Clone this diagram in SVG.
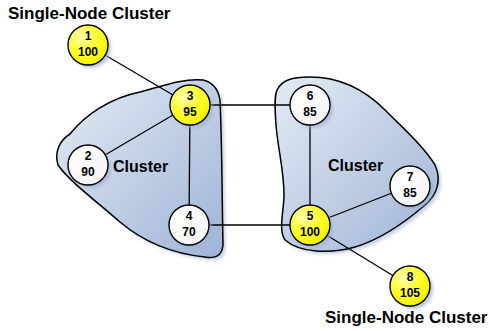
<svg xmlns="http://www.w3.org/2000/svg" width="489" height="331" viewBox="0 0 489 331">
<defs>
<linearGradient id="blob" x1="0" y1="0" x2="1" y2="1">
<stop offset="0" stop-color="#e4ebf4"/>
<stop offset="1" stop-color="#9fb4d6"/>
</linearGradient>
<radialGradient id="yel" cx="0.35" cy="0.3" r="0.75">
<stop offset="0" stop-color="#ffffb0"/>
<stop offset="0.5" stop-color="#ffff30"/>
<stop offset="1" stop-color="#f0f000"/>
</radialGradient>
<radialGradient id="wht" cx="0.35" cy="0.3" r="0.75">
<stop offset="0" stop-color="#ffffff"/>
<stop offset="1" stop-color="#f4f4f4"/>
</radialGradient>
<filter id="sh" x="-30%" y="-30%" width="160%" height="160%">
<feGaussianBlur stdDeviation="1.5"/>
</filter>
</defs>
<style>
.blob{fill:url(#blob);stroke:#000;stroke-width:1.5}
.bsh{fill:#a8b8d8;opacity:0.6;filter:url(#sh)}
.nsh{fill:#9fb0d8;opacity:0.7;filter:url(#sh)}
.y{fill:url(#yel);stroke:#000;stroke-width:1.4}
.w{fill:url(#wht);stroke:#000;stroke-width:1.4}
.t{font-family:"Liberation Sans",Arial,sans-serif;font-weight:bold;font-size:12px;text-anchor:middle;fill:#000}
.lab{font-family:"Liberation Sans",Arial,sans-serif;font-weight:bold;font-size:17px;fill:#000}
.cl{font-family:"Liberation Sans",Arial,sans-serif;font-weight:bold;font-size:16px;fill:#000}
.e{stroke:#000;stroke-width:1.3;fill:none}
</style>
<g id="cluster-left">
<path class="bsh" transform="translate(3,3)" d="M140,92 C165,85 185,78 203,80 C212,82 218,88 220,100 C222,140 222,200 223,245 C222,256 215,259 205,257 C175,254 145,243 120,222 C95,200 70,182 58,165 C54,152 60,140 70,134 C85,115 110,98 140,92 Z"/>
<path class="blob" d="M140,92 C165,85 185,78 203,80 C212,82 218,88 220,100 C222,140 222,200 223,245 C222,256 215,259 205,257 C175,254 145,243 120,222 C95,200 70,182 58,165 C54,152 60,140 70,134 C85,115 110,98 140,92 Z"/>
<text class="cl" x="113" y="172">Cluster</text>
</g>
<g id="cluster-right">
<path class="bsh" transform="translate(3,3)" d="M277,90 C282,80 292,77 310,77 C335,77 360,85 385,110 C405,130 425,148 435,165 C442,180 437,195 425,205 C410,218 385,238 355,247 C330,254 300,253 285,240 C278,230 284,210 284,195 C284,170 278,150 276,125 C275,110 274,97 277,90 Z"/>
<path class="blob" d="M277,90 C282,80 292,77 310,77 C335,77 360,85 385,110 C405,130 425,148 435,165 C442,180 437,195 425,205 C410,218 385,238 355,247 C330,254 300,253 285,240 C278,230 284,210 284,195 C284,170 278,150 276,125 C275,110 274,97 277,90 Z"/>
<text class="cl" x="328" y="171">Cluster</text>
</g>
<g id="connectors">
<line class="e" x1="88" y1="45" x2="190" y2="105"/>
<line class="e" x1="190" y1="105" x2="88" y2="165"/>
<line class="e" x1="190" y1="105" x2="189" y2="225"/>
<line class="e" x1="190" y1="105" x2="310" y2="105"/>
<line class="e" x1="189" y1="225" x2="310" y2="225"/>
<line class="e" x1="310" y1="105" x2="310" y2="225"/>
<line class="e" x1="310" y1="225" x2="410" y2="186"/>
<line class="e" x1="310" y1="225" x2="410" y2="286"/>
</g>
<g id="node1"><circle class="nsh" cx="91" cy="48" r="20"/><circle class="y" cx="88" cy="45" r="20"/><text class="t" x="88" y="40">1</text><text class="t" x="88" y="56">100</text></g>
<g id="node2"><circle class="nsh" cx="91" cy="168" r="20"/><circle class="w" cx="88" cy="165" r="20"/><text class="t" x="88" y="160">2</text><text class="t" x="88" y="176">90</text></g>
<g id="node3"><circle class="nsh" cx="193" cy="108" r="20"/><circle class="y" cx="190" cy="105" r="20"/><text class="t" x="190" y="100">3</text><text class="t" x="190" y="116">95</text></g>
<g id="node4"><circle class="nsh" cx="192" cy="228" r="20"/><circle class="w" cx="189" cy="225" r="20"/><text class="t" x="189" y="220">4</text><text class="t" x="189" y="236">70</text></g>
<g id="node5"><circle class="nsh" cx="313" cy="228" r="20"/><circle class="y" cx="310" cy="225" r="20"/><text class="t" x="310" y="220">5</text><text class="t" x="310" y="236">100</text></g>
<g id="node6"><circle class="nsh" cx="313" cy="108" r="20"/><circle class="w" cx="310" cy="105" r="20"/><text class="t" x="310" y="100">6</text><text class="t" x="310" y="116">85</text></g>
<g id="node7"><circle class="nsh" cx="413" cy="189" r="20"/><circle class="w" cx="410" cy="186" r="20"/><text class="t" x="410" y="181">7</text><text class="t" x="410" y="197">85</text></g>
<g id="node8"><circle class="nsh" cx="413" cy="289" r="20"/><circle class="y" cx="410" cy="286" r="20"/><text class="t" x="410" y="281">8</text><text class="t" x="410" y="297">105</text></g>
<text class="lab" x="8" y="19">Single-Node Cluster</text>
<text class="lab" x="325" y="323">Single-Node Cluster</text>
</svg>
